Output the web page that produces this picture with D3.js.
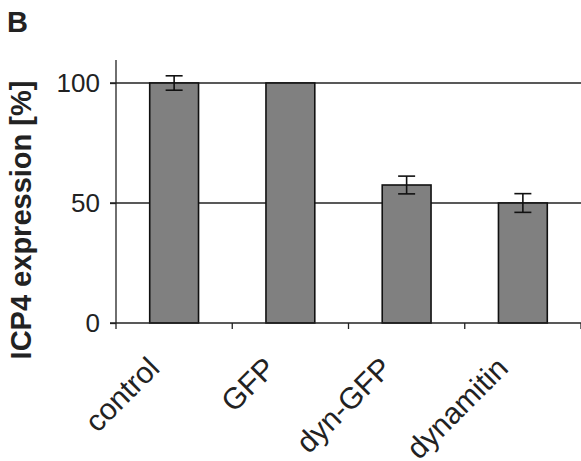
<!DOCTYPE html>
<html>
<head>
<meta charset="utf-8">
<script src="https://cdn.jsdelivr.net/npm/d3@7"></script>
<style>
  html, body { margin: 0; padding: 0; background: #fff; overflow: hidden; }
  svg { display: block; }
  svg text { font-family: "Liberation Sans", Arial, sans-serif; fill: #222; }
</style>
</head>
<body>
<div id="chart"></div>
<script>
// data
const categories = ["control", "GFP", "dyn-GFP", "dynamitin"];
const values = [100, 100, 57.5, 50];
const errors = [3, 0, 3.7, 3.9];
const yTicks = [0, 50, 100];

const width = 581;
const height = 461;
const margin = { top: 83, right: 0, bottom: 138, left: 116 };
const innerWidth = width - margin.left - margin.right;
const innerHeight = height - margin.top - margin.bottom;

const svg = d3.select("#chart").append("svg")
    .attr("width", width)
    .attr("height", height);

// panel letter
svg.append("text")
    .attr("x", 7)
    .attr("y", 32)
    .style("font-size", "29px")
    .style("font-weight", "bold")
    .text("B");

const g = svg.append("g")
    .attr("transform", `translate(${margin.left},${margin.top})`);

const xScale = d3.scaleBand()
    .domain(categories)
    .range([0, innerWidth])
    .paddingInner(0.58)
    .paddingOuter(0.29);

const yScale = d3.scaleLinear()
    .domain([0, 100])
    .range([innerHeight, 0]);

const lineColor = "#222";

// horizontal grid lines
g.selectAll(".grid")
    .data(yTicks.filter(d => d > 0))
    .join("line")
    .attr("class", "grid")
    .attr("x1", -6)
    .attr("x2", innerWidth)
    .attr("y1", d => yScale(d))
    .attr("y2", d => yScale(d))
    .attr("stroke", lineColor)
    .attr("stroke-width", 1.3);

// bars
g.selectAll(".bar")
    .data(categories)
    .join("rect")
    .attr("class", "bar")
    .attr("x", d => xScale(d))
    .attr("y", (d, i) => yScale(values[i]))
    .attr("width", xScale.bandwidth())
    .attr("height", (d, i) => innerHeight - yScale(values[i]))
    .attr("fill", "#808080")
    .attr("stroke", "#111")
    .attr("stroke-width", 1.6);

// error bars
const errData = categories.map((c, i) => ({ c, v: values[i], e: errors[i] })).filter(d => d.e > 0);
const capW = 8.5;
const eg = g.selectAll(".err")
    .data(errData)
    .join("g")
    .attr("class", "err")
    .attr("transform", d => `translate(${xScale(d.c) + xScale.bandwidth() / 2},0)`)
    .attr("stroke", "#111")
    .attr("stroke-width", 1.6);
eg.append("line")
    .attr("y1", d => yScale(d.v + d.e))
    .attr("y2", d => yScale(d.v - d.e));
eg.append("line")
    .attr("x1", -capW).attr("x2", capW)
    .attr("y1", d => yScale(d.v + d.e))
    .attr("y2", d => yScale(d.v + d.e));
eg.append("line")
    .attr("x1", -capW).attr("x2", capW)
    .attr("y1", d => yScale(d.v - d.e))
    .attr("y2", d => yScale(d.v - d.e));

// y axis
const yAxisGroup = g.append("g")
    .call(d3.axisLeft(yScale).tickValues(yTicks).tickSize(6).tickPadding(10));
yAxisGroup.select(".domain").remove();
yAxisGroup.selectAll("line").attr("stroke", lineColor).attr("stroke-width", 1.3);
yAxisGroup.selectAll("text")
    .style("font-size", "26px")
    .attr("fill", "#333");
g.append("line")
    .attr("x1", 0).attr("x2", 0)
    .attr("y1", -23).attr("y2", innerHeight)
    .attr("stroke", lineColor)
    .attr("stroke-width", 1.3);

// x axis line with ticks between categories
g.append("line")
    .attr("x1", -6).attr("x2", innerWidth)
    .attr("y1", innerHeight).attr("y2", innerHeight)
    .attr("stroke", lineColor)
    .attr("stroke-width", 1.3);
const step = xScale.step();
g.selectAll(".xtick")
    .data(d3.range(categories.length + 1))
    .join("line")
    .attr("class", "xtick")
    .attr("x1", i => xScale(categories[0]) - step * 0.29 + i * step)
    .attr("x2", i => xScale(categories[0]) - step * 0.29 + i * step)
    .attr("y1", innerHeight)
    .attr("y2", innerHeight + 6)
    .attr("stroke", lineColor)
    .attr("stroke-width", 1.3);

// rotated category labels
g.selectAll(".xlabel")
    .data(categories)
    .join("text")
    .attr("class", "xlabel")
    .attr("transform", d => `translate(${xScale(d) + xScale.bandwidth() / 2 - 13},${innerHeight + 47}) rotate(-45)`)
    .attr("text-anchor", "end")
    .style("font-size", "30px")
    .attr("fill", "#333")
    .text(d => d);

// y axis title
svg.append("text")
    .attr("transform", "rotate(-90)")
    .attr("x", -220)
    .attr("y", 31)
    .attr("text-anchor", "middle")
    .style("font-size", "29px")
    .style("font-weight", "bold")
    .text("ICP4 expression [%]");
</script>
</body>
</html>
